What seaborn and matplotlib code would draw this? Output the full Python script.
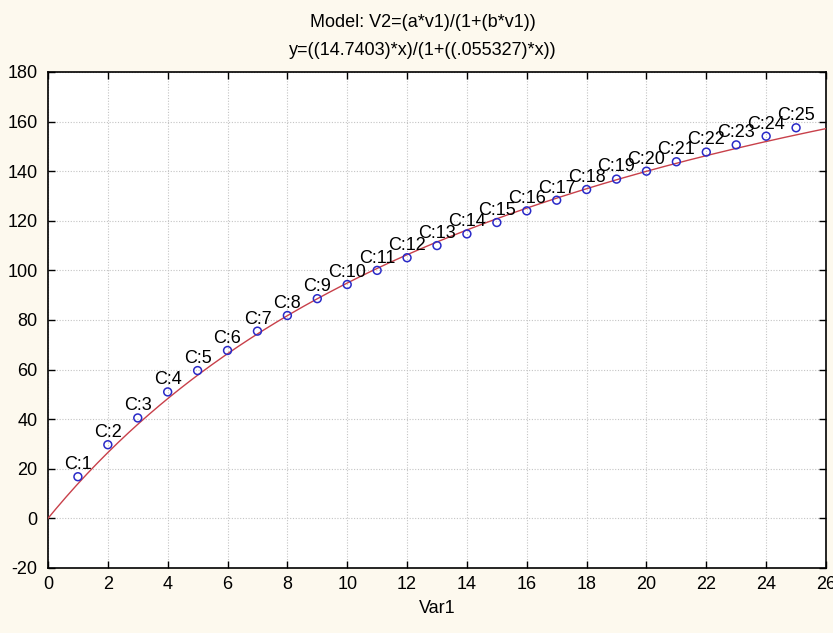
import numpy as np
import pandas as pd
import matplotlib
matplotlib.use("Agg")
import matplotlib.pyplot as plt
import seaborn as sns

# Data
case_x = [1, 2, 3, 4, 5, 6, 7, 8, 9, 10, 11, 12, 13, 14, 15, 16, 17, 18, 19, 20, 21, 22, 23, 24, 25]
case_y = [16.8, 29.7, 40.5, 51.0, 59.6, 67.7, 75.5, 81.8, 88.6, 94.3, 100.0, 105.1, 110.0, 114.7,
          119.3, 124.0, 128.3, 132.6, 136.8, 140.0, 143.8, 147.7, 150.6, 154.1, 157.5]
case_labels = [f"C:{i}" for i in case_x]
param_a = 14.7403
param_b = 0.055327
x_ticks = list(range(0, 27, 2))
y_ticks = list(range(-20, 181, 20))

sns.set_theme(style="white")
plt.rcParams['font.family'] = ['Liberation Sans', 'DejaVu Sans']
plt.rcParams['axes.unicode_minus'] = False
plt.rcParams['text.color'] = 'black'
plt.rcParams['axes.labelcolor'] = 'black'

bg = "#fdf9ee"
fig = plt.figure(figsize=(8.33, 6.33), dpi=100, facecolor=bg)
ax = fig.add_axes([0.0576, 0.1027, 0.9340, 0.7836])
ax.set_facecolor("white")

df = pd.DataFrame({"Var1": case_x, "Var2": case_y, "label": case_labels})
xs = np.linspace(0, 26, 300)
curve = pd.DataFrame({"x": xs, "y": param_a * xs / (1 + param_b * xs)})

sns.lineplot(data=curve, x="x", y="y", ax=ax, color="#c8404a", linewidth=1.0, zorder=3)
sns.scatterplot(data=df, x="Var1", y="Var2", ax=ax, marker="o", s=32,
                facecolor="none", edgecolor="#2a2ac8", linewidth=1.1, zorder=4)

for xv, yv, lab in zip(df["Var1"], df["Var2"], df["label"]):
    ax.annotate(lab, (xv, yv), xytext=(0, 5.5), textcoords="offset points",
                ha="center", va="baseline", fontsize=13, color="black", zorder=5)

ax.set_xlim(0, 26)
ax.set_ylim(-20, 180)
ax.set_xticks(x_ticks)
ax.set_yticks(y_ticks)
ax.grid(True, color="#c4c4c4", linestyle=(0, (1, 1.5)), linewidth=0.8)
ax.tick_params(axis="both", direction="in", length=5, width=1, colors="black",
               labelsize=13, top=True, right=True, bottom=True, left=True)
ax.tick_params(axis="y", pad=7.5)
ax.tick_params(axis="x", pad=5.5)
for s in ax.spines.values():
    s.set_color("black")
    s.set_linewidth(1.2)

ax.set_xlabel("Var1", fontsize=13, labelpad=5)
ax.set_ylabel("")
fig.text(0.508, 0.9637, "Model: V2=(a*v1)/(1+(b*v1))", ha="center", va="center", fontsize=13)
fig.text(0.508, 0.921, "y=((14.7403)*x)/(1+((.055327)*x))", ha="center", va="center", fontsize=13)

fig.savefig("out.png", dpi=100, facecolor=bg)
